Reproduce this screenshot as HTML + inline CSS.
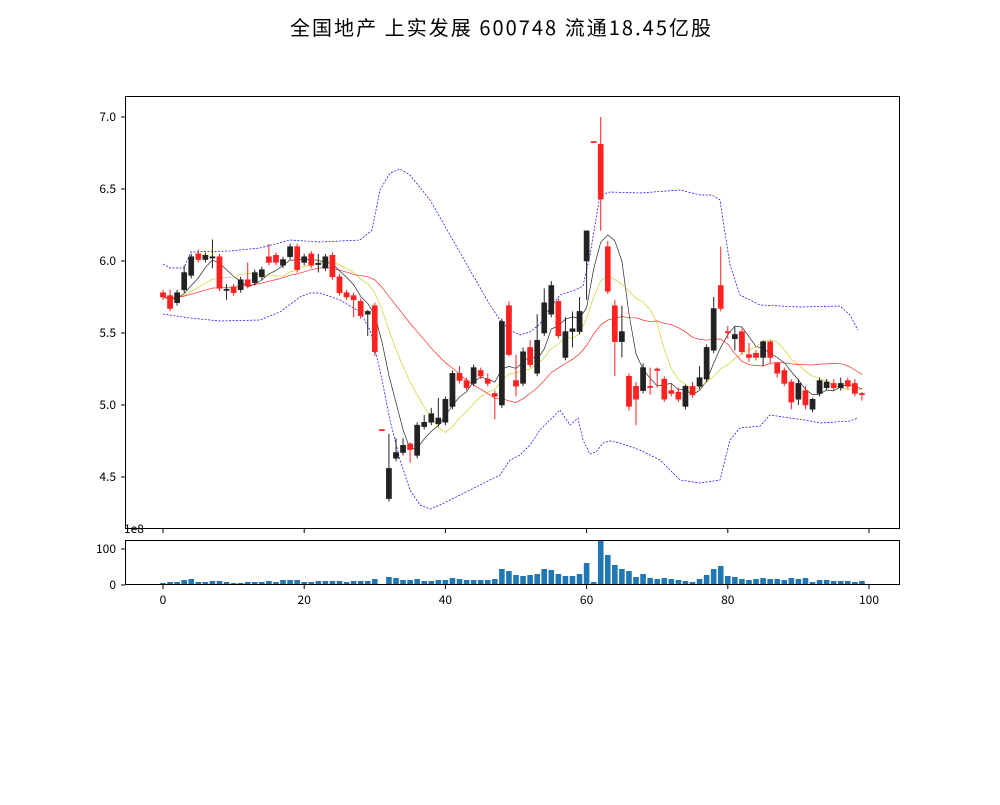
<!DOCTYPE html>
<html><head><meta charset="utf-8"><style>
body{margin:0;background:#fff;}
svg text{font-family:"WenQuanYi Zen Hei","Noto Sans CJK SC",sans-serif;}
</style></head><body>
<svg id="s" width="1000" height="800" xmlns="http://www.w3.org/2000/svg">
<rect width="1000" height="800" fill="#fff"/>
<text x="290" y="35" font-size="20" textLength="421" lengthAdjust="spacing">全国地产 上实发展 600748 流通18.45亿股</text>
<g id="g"></g>
<rect x="125.5" y="96.5" width="774" height="432" fill="none" stroke="#000" stroke-width="1"/>
<rect x="125.5" y="540.5" width="774" height="44" fill="none" stroke="#000" stroke-width="1"/>
<text x="124" y="533" font-size="12">1e8</text>
</svg>
<script>
const C=[
[5.78,5.75],[5.76,5.67,5.80],[5.71,5.78],[5.80,5.92,5.97],[5.90,6.03],[6.05,6.01,6.08],[6.01,6.04],[6.02,6.03,6.15,5.95],[6.03,5.81],[5.795,5.805,5.84,5.73],
[5.82,5.78],[5.80,5.87],[5.87,5.83,5.99],[5.85,5.92],[5.89,5.94],[6.03,5.99,6.12],[6.04,5.99],[5.97,6.01],[6.03,6.10],[6.10,5.94],
[5.99,6.03],[6.05,5.97],[5.975,5.985,6.05,5.92],[5.95,6.03],[6.04,5.89],[5.89,5.78],[5.78,5.75],[5.76,5.73,5.78,5.61],[5.72,5.62],[5.63,5.65,5.66,5.48],
[5.69,5.37,5.71,5.34],[4.83,4.83,4.83,4.83],[4.35,4.56,4.80],[4.63,4.67,4.77],[4.67,4.72,4.77],[4.73,4.69,4.74,4.60],[4.65,4.86,4.88],[4.85,4.88,4.93],[4.88,4.94,4.98],[4.87,4.91,5.05],
[4.88,5.04,5.06],[4.99,5.22],[5.22,5.17,5.27],[5.17,5.12],[5.15,5.26],[5.24,5.20,5.26],[5.18,5.15,5.22],[5.08,5.06,5.10,4.90],[5.00,5.58],[5.69,5.35,5.72,5.34],
[5.17,5.13,5.35,5.06],[5.15,5.37,5.40],[5.40,5.28,5.45],[5.22,5.45,5.63],[5.50,5.71,5.81],[5.63,5.83,5.86],[5.72,5.48,5.74],[5.33,5.51,5.61],[5.51,5.53,5.65,5.40],[5.51,5.65,5.75],
[6.00,6.21,6.21,5.73],[6.83,6.83,6.83,6.83],[6.81,6.43,7.00,6.21],[6.10,5.79,6.14],[5.69,5.44,5.73,5.20],[5.44,5.51,5.69,5.33],[5.20,4.99,5.22,4.96],[5.13,5.04,5.16,4.86],[5.10,5.26,5.29],[5.13,5.13,5.26,5.07],
[5.25,5.24,5.26,5.12],[5.18,5.04,5.20,5.02],[5.10,5.08,5.15,5.06],[5.09,5.04,5.12,5.02],[4.99,5.13,5.14],[5.13,5.07,5.16],[5.13,5.19,5.27],[5.18,5.40,5.42],[5.38,5.67,5.75],[5.83,5.67,6.10],
[5.51,5.51,5.55,5.46],[5.46,5.49,5.54,5.38],[5.51,5.37,5.53],[5.35,5.33,5.43,5.30],[5.36,5.33,5.38],[5.33,5.44,5.45,5.27],[5.44,5.33,5.45,5.29],[5.29,5.22,5.29,5.19],[5.24,5.15],[5.16,5.02,5.18,4.97],
[5.04,5.15,5.18,5.00],[5.10,5.00,5.13,4.97],[4.97,5.04,5.05,4.95],[5.08,5.17,5.19],[5.12,5.16,5.18],[5.15,5.12,5.18,5.10],[5.12,5.15,5.19],[5.17,5.13,5.19,5.11],[5.15,5.08,5.18,5.06],[5.08,5.08,5.09,5.03]];
const V=[2,3,3,5,6,3,3,4,4,3,2,2,3,3,3,4,3,5,5,5,3,3,4,4,4,4,3,4,4,4,6,1,8,7,5,5,6,4,4,5,5,7,6,5,5,5,5,6,16,14,10,9,10,11,16,15,11,9,9,11,22,3,44,30,20,16,14,8,11,7,6,7,6,5,4,3,6,10,16,19,9,8,6,5,6,7,6,6,5,7,6,7,3,5,5,4,4,4,3,4];
const X=i=>163+7.06*i, Y=p=>117+(7-p)*144;
let h='';
[7.0,6.5,6.0,5.5,5.0,4.5].forEach(p=>{const y=Y(p);h+=`<line x1="121" x2="125" y1="${y}" y2="${y}" stroke="#000"/><text x="116" y="${y+4}" font-size="12" text-anchor="end">${p.toFixed(1)}</text>`;});
[0,20,40,60,80,100].forEach(t=>{const x=X(t);h+=`<line x1="${x}" x2="${x}" y1="529" y2="533" stroke="#000"/><line x1="${x}" x2="${x}" y1="585" y2="589" stroke="#000"/><text x="${x}" y="604" font-size="12" text-anchor="middle">${t}</text>`;});
[[0,585],[100,549]].forEach(([t,y])=>{h+=`<line x1="121" x2="125" y1="${y}" y2="${y}" stroke="#000"/><text x="116" y="${y+4}" font-size="12" text-anchor="end">${t}</text>`;});
const up=[[163,264],[170,268],[184,268],[191,252],[230,251],[260,248],[290,240],[320,242],[360,240],[372,230],[380,190],[390,173],[400,169],[410,175],[430,200],[450,235],[470,270],[490,305],[500,320],[510,330],[520,335],[530,332],[540,324],[550,308],[560,295],[575,290],[583,286],[590,255],[600,195],[610,192],[640,193],[680,190],[700,195],[712,195],[720,200],[730,265],[740,295],[760,305],[800,307],[840,306],[850,315],[858,330]];
const lo=[[163,314],[190,318],[220,321],[260,320],[280,312],[300,297],[310,293],[320,293],[340,300],[360,312],[370,330],[380,370],[390,420],[400,460],[410,490],[420,505],[430,509],[440,505],[460,495],[480,485],[490,480],[500,475],[510,460],[520,455],[530,445],[540,430],[550,420],[560,410],[570,425],[578,418],[583,440],[590,454],[596,452],[603,443],[610,441],[620,443],[640,450],[650,455],[660,460],[670,470],[680,480],[700,483],[720,480],[730,440],[740,428],[760,426],[770,415],[790,418],[805,420],[820,423],[850,421],[858,418]];
[up,lo].forEach(a=>h+=`<polyline points="${a.map(p=>p.join(',')).join(' ')}" fill="none" stroke="#00f" stroke-width="0.7" stroke-dasharray="2,1.5"/>`);
const cl=C.map(c=>c[1]);
function ma(n){return cl.map((_,i)=>{let s=0;for(let k=i-n+1;k<=i;k++)s+=cl[Math.max(0,k)];return s/n;});}
[[5,'#000'],[10,'#c8c800'],[20,'#f00']].forEach(([n,c])=>{h+=`<polyline points="${ma(n).map((v,i)=>X(i).toFixed(1)+','+Y(v).toFixed(1)).join(' ')}" fill="none" stroke="${c}" stroke-width="0.7" opacity="0.85"/>`;});
C.forEach((c,i)=>{const [o,cc]=c;const t=Math.max(o,cc),b=Math.min(o,cc);const hi=c[2]!==undefined?c[2]:t+0.02,l=c[3]!==undefined?c[3]:b-0.02;
const col=cc>o?'#222':'#ff2020';const x=X(i);
h+=`<line x1="${x}" x2="${x}" y1="${Y(hi)}" y2="${Y(l)}" stroke="${col}" stroke-width="1"/>`;
const y1=Y(t),hh=Math.max(1.2,Y(b)-y1);
h+=`<rect x="${x-2.6}" y="${y1}" width="5.2" height="${hh}" fill="${col}" stroke="${col}" stroke-width="0.5"/>`;});
V.forEach((v,i)=>{h+=`<rect x="${X(i)-2.8}" y="${585-v}" width="5.6" height="${v}" fill="#1f77b4"/>`;});
document.getElementById('g').innerHTML=h;
</script>
</body></html>
